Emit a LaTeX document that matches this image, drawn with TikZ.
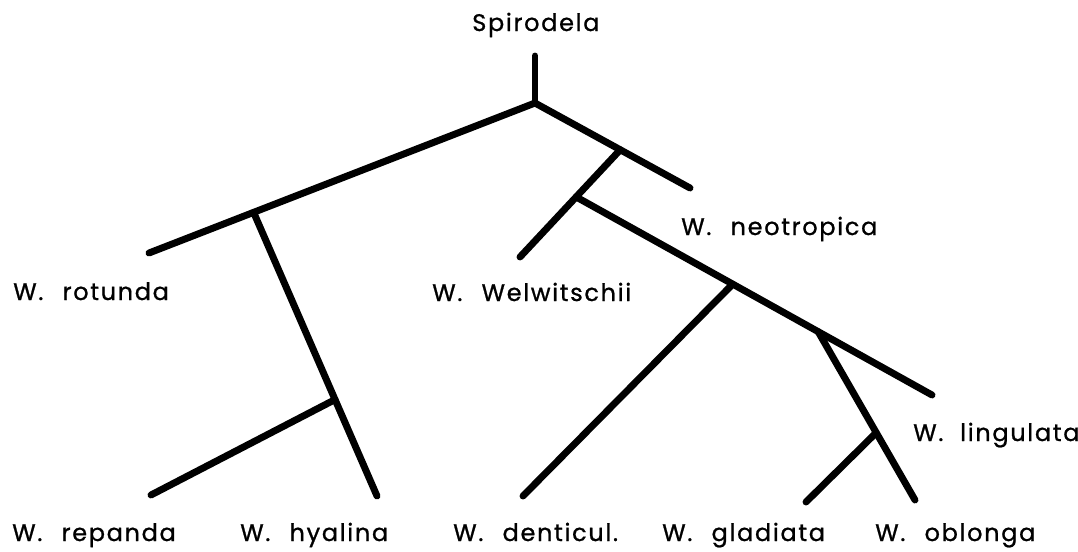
\documentclass[tikz,border=0pt]{standalone}
\usepackage{fontspec}
\setmainfont{Poppins}[LetterSpace=7, FakeBold=0.9]
\usetikzlibrary{calc}

\tikzset{
    branch/.style={line width=5.2pt, line cap=round, line join=round},
    taxon/.style={anchor=base west, inner sep=0pt, font=\fontsize{18}{21}\selectfont}
}

\begin{document}
\begin{tikzpicture}[x=0.75pt, y=-0.75pt]

    % Keep the frame of the original figure
    \useasboundingbox (0, 0) rectangle (1078, 551);

    % Tips of the tree
    \coordinate (top) at (535, 56);
    \coordinate (root) at (535, 103);
    \coordinate (rotundaTip) at (149, 253);
    \coordinate (neotropicaTip) at (690, 188);
    \coordinate (hyalinaTip) at (377, 496);
    \coordinate (repandaTip) at (151, 495);
    \coordinate (welwitschiiTip) at (520, 257);
    \coordinate (lingulataTip) at (932, 395);
    \coordinate (denticulTip) at (523, 496);
    \coordinate (oblongaTip) at (915, 500);
    \coordinate (gladiataTip) at (806, 502);

    % Forks, each one lying on its parent branch
    \coordinate (forkA) at ($(root)!0.729!(rotundaTip)$);
    \coordinate (forkB) at ($(forkA)!0.66!(hyalinaTip)$);
    \coordinate (forkC) at ($(root)!0.55!(neotropicaTip)$);
    \coordinate (forkD) at ($(forkC)!0.44!(welwitschiiTip)$);
    \coordinate (forkE) at ($(forkD)!0.44!(lingulataTip)$);
    \coordinate (forkF) at ($(forkD)!0.68!(lingulataTip)$);
    \coordinate (forkG) at ($(forkF)!0.6!(oblongaTip)$);

    % Draw the branches
    \draw[branch] (top) -- (root);
    \draw[branch] (root) -- (rotundaTip);
    \draw[branch] (root) -- (neotropicaTip);
    \draw[branch] (forkA) -- (hyalinaTip);
    \draw[branch] (forkB) -- (repandaTip);
    \draw[branch] (forkC) -- (welwitschiiTip);
    \draw[branch] (forkD) -- (lingulataTip);
    \draw[branch] (forkE) -- (denticulTip);
    \draw[branch] (forkF) -- (oblongaTip);
    \draw[branch] (forkG) -- (gladiataTip);

    % Names of the taxa
    \node[taxon] (spirodela) at (472, 31) {Spirodela};
    \node[taxon] (rotunda) at (13, 300) {W.\hspace{0.8em}rotunda};
    \node[taxon] (welwitschii) at (432, 301) {W.\hspace{0.8em}Welwitschii};
    \node[taxon] (neotropica) at (681, 235) {W.\hspace{0.8em}neotropica};
    \node[taxon] (lingulata) at (913, 441) {W.\hspace{0.7em}lingulata};
    \node[taxon] (repanda) at (12, 541) {W.\hspace{0.8em}repanda};
    \node[taxon] (hyalina) at (240, 541) {W.\hspace{0.8em}hyalina};
    \node[taxon] (denticul) at (453, 541) {W.\hspace{0.8em}denticul.};
    \node[taxon] (gladiata) at (662, 541) {W.\hspace{0.8em}gladiata};
    \node[taxon] (oblonga) at (875, 541) {W.\hspace{0.8em}oblonga};

\end{tikzpicture}
\end{document}
